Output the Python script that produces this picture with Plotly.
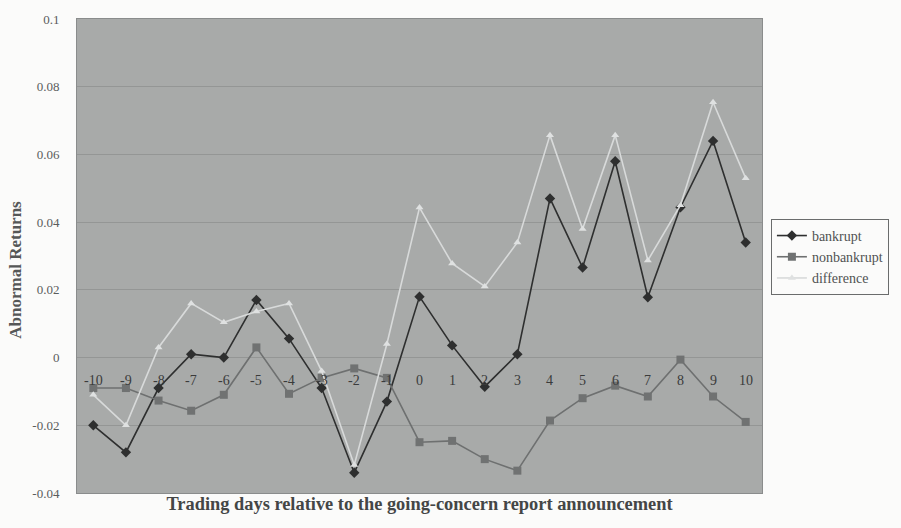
import plotly.graph_objects as go

# Event window: trading days relative to the going-concern announcement
days = list(range(-10, 11))
day_labels = [str(d) for d in days]

# Mean abnormal returns per trading day
bankrupt = [-0.020, -0.028, -0.009, 0.001, 0.000, 0.017, 0.0056, -0.009, -0.034, -0.013,
            0.018, 0.0036, -0.0086, 0.001, 0.047, 0.0266, 0.058, 0.0178, 0.0444, 0.064, 0.034]
nonbankrupt = [-0.009, -0.009, -0.0127, -0.0157, -0.011, 0.003, -0.0107, -0.006, -0.0032, -0.006,
               -0.025, -0.0246, -0.030, -0.0334, -0.0186, -0.012, -0.0083, -0.0115, -0.0006, -0.0115, -0.019]
difference = [-0.011, -0.020, 0.003, 0.016, 0.0104, 0.0136, 0.016, -0.004, -0.0317, 0.004,
              0.0443, 0.0278, 0.021, 0.034, 0.0657, 0.038, 0.0657, 0.0287, 0.045, 0.0754, 0.053]

y_ticks = [-0.04, -0.02, 0, 0.02, 0.04, 0.06, 0.08, 0.1]
y_tick_text = ["-0.04", "-0.02", "0", "0.02", "0.04", "0.06", "0.08", "0.1"]

SERIF = "Liberation Serif, Times New Roman, serif"
MARGIN_L, MARGIN_R, MARGIN_T, MARGIN_B = 77, 136, 16, 35
PLOT_W = 901 - MARGIN_L - MARGIN_R
PLOT_H = 528 - MARGIN_T - MARGIN_B

fig = go.Figure()
fig.add_trace(go.Scatter(
    x=days, y=bankrupt, name="bankrupt", mode="lines+markers",
    line=dict(color="#2e2f2f", width=1.6),
    marker=dict(symbol="diamond", size=8, color="#2e2f2f"),
))
fig.add_trace(go.Scatter(
    x=days, y=nonbankrupt, name="nonbankrupt", mode="lines+markers",
    line=dict(color="#6e7070", width=1.6),
    marker=dict(symbol="square", size=8, color="#707272"),
))
fig.add_trace(go.Scatter(
    x=days, y=difference, name="difference", mode="lines+markers",
    line=dict(color="#d8dada", width=1.6),
    marker=dict(symbol="triangle-up", size=7, color="#dfe1e1"),
))

# Category labels sit just below the zero line, inside the plot
for d, lab in zip(days, day_labels):
    fig.add_annotation(
        x=d, y=0, xref="x", yref="y", text=lab, showarrow=False,
        yshift=-23, font=dict(family=SERIF, size=14, color="#3a3b3b"),
    )

# Rotated y-axis title, a little below the vertical centre
fig.add_annotation(
    x=(15 - MARGIN_L) / PLOT_W, y=1 - (268 - MARGIN_T) / PLOT_H,
    xref="paper", yref="paper", xanchor="center", yanchor="middle",
    text="<b>Abnormal Returns</b>", textangle=-90, showarrow=False,
    font=dict(family=SERIF, size=17, color="#555757"),
)

fig.update_layout(
    width=901, height=528,
    margin=dict(l=MARGIN_L, r=MARGIN_R, t=MARGIN_T, b=MARGIN_B),
    paper_bgcolor="#fbfbfa",
    plot_bgcolor="#a8aaa9",
    font=dict(family=SERIF, size=13, color="#555757"),
    showlegend=True,
    legend=dict(
        x=1.013, y=0.498, xanchor="left", yanchor="middle",
        bgcolor="#fbfbfa", bordercolor="#6a6c6c", borderwidth=1,
        font=dict(family=SERIF, size=14, color="#505252"),
        itemwidth=30,
    ),
    xaxis=dict(
        range=[-10.5, 10.5], showticklabels=False, showgrid=False, zeroline=False,
        showline=True, linecolor="#8a8c8c", mirror=True, ticks="",
        title=dict(text="<b>Trading days relative to the going-concern report announcement</b>",
                   font=dict(family=SERIF, size=18.4, color="#444646"), standoff=4),
    ),
    yaxis=dict(
        range=[-0.04, 0.1], tickvals=y_ticks, ticktext=y_tick_text,
        showgrid=True, gridcolor="#949695", gridwidth=1, zeroline=False,
        showline=True, linecolor="#8a8c8c", mirror=True, ticks="",
        ticklabelstandoff=14,
        tickfont=dict(family=SERIF, size=13, color="#5a5c5c"),
    ),
)

fig.write_html("out.html")
